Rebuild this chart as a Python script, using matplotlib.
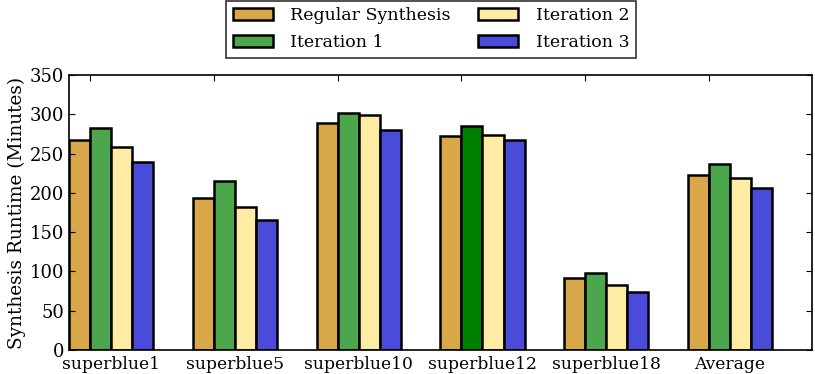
import matplotlib
matplotlib.use("Agg")
import matplotlib.pyplot as plt
import numpy as np

categories = ["superblue1", "superblue5", "superblue10", "superblue12", "superblue18", "Average"]
regular = [267, 193, 289, 272, 92, 223]
iter1 = [282, 215, 302, 285, 98, 237]
iter2 = [258, 182, 299, 273, 83, 219]
iter3 = [239, 165, 280, 267, 74, 206]
series_names = ["Regular Synthesis", "Iteration 1", "Iteration 2", "Iteration 3"]
colors = ["#D8A74A", "#4CA64C", "#FEEBA4", "#4B4BD9"]
special_color = "#008000"  # superblue12 iteration 1

plt.rcParams['font.family'] = ['DejaVu Serif']
plt.rcParams['font.size'] = 13

fig = plt.figure(figsize=(8.15, 3.74), dpi=100)
ax = fig.add_axes([0.0847, 0.0642, 0.9113, 0.7353])

ind = np.arange(len(categories))
w = 0.17
data = [regular, iter1, iter2, iter3]
for i, (vals, name, c) in enumerate(zip(data, series_names, colors)):
    cols = [c] * len(vals)
    if i == 1:
        cols[3] = special_color
    ax.bar(ind + i * w, vals, w, align='edge', color=cols, edgecolor='black',
           linewidth=1.8, label=name)

ax.set_xlim(0, 6)
ax.set_ylim(0, 350)
ax.set_yticks(np.arange(0, 351, 50))
ax.set_xticks(ind + w)
ax.set_xticklabels([])
ax.set_xticks(ind + 2 * w, minor=True)
ax.set_xticklabels(categories, minor=True)
ax.tick_params(axis='x', which='minor', length=0, pad=4, labelsize=12.3)
ax.tick_params(axis='both', which='major', direction='in', top=True, right=True,
               length=4, width=0.8, labelsize=13)
ax.set_ylabel("Synthesis Runtime (Minutes)", fontsize=13.3, labelpad=3)
for s in ax.spines.values():
    s.set_linewidth(1.2)

leg = fig.legend(loc='lower center', bbox_to_anchor=(0.529, 0.845), ncol=2,
                 fontsize=12.5, frameon=True, fancybox=False, edgecolor='black',
                 handlelength=2.3, handleheight=0.7, columnspacing=1.6,
                 borderpad=0.4, labelspacing=0.55, handletextpad=1.0,
                 borderaxespad=0)
leg.get_frame().set_linewidth(1.2)

fig.savefig("out.png", dpi=100)
